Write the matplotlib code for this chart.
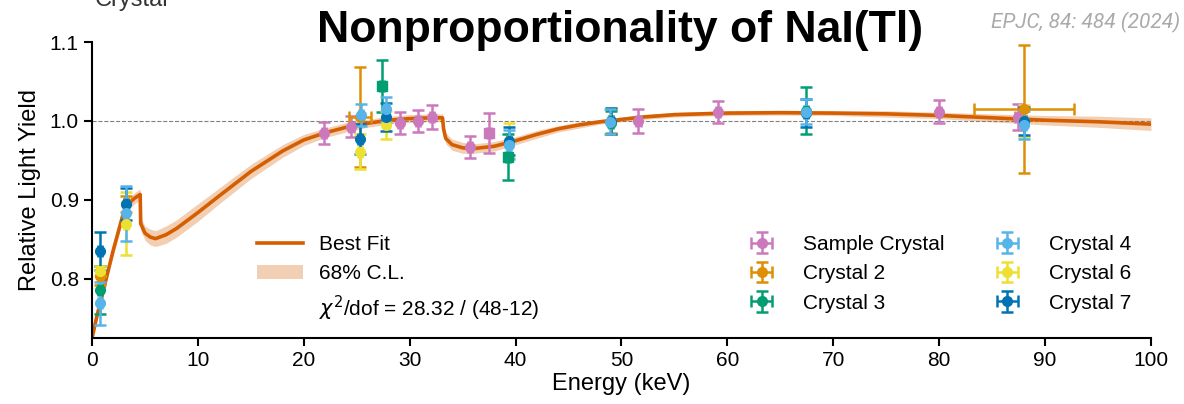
import matplotlib
matplotlib.use("Agg")
import matplotlib.pyplot as plt
import numpy as np
from matplotlib.lines import Line2D
from matplotlib.patches import Patch

plt.rcParams['font.family'] = ['Liberation Sans', 'DejaVu Sans']

# Courbe du meilleur ajustement
fit_e = [0.05, 0.5, 1.0, 2.0, 3.0, 3.5, 4.0, 4.55, 4.6, 5.0, 5.5, 6.0, 7.0, 8.0,
         10, 12, 15, 18, 20, 22, 24, 26, 28, 30, 32, 33.1, 33.2, 33.4, 34, 35,
         36, 38, 40, 42, 44, 46, 48, 50, 52, 55, 60, 65, 70, 75, 80, 85, 90, 95, 100]
fit_y = [0.728, 0.755, 0.782, 0.836, 0.885, 0.896, 0.902, 0.907, 0.870, 0.858,
         0.853, 0.851, 0.856, 0.864, 0.884, 0.905, 0.936, 0.962, 0.976, 0.985,
         0.992, 0.997, 1.001, 1.003, 1.004, 1.004, 0.990, 0.978, 0.970, 0.966,
         0.965, 0.968, 0.975, 0.983, 0.990, 0.995, 0.999, 1.002, 1.005, 1.008,
         1.010, 1.0105, 1.010, 1.009, 1.007, 1.004, 1.001, 0.999, 0.996]
band_hw = [0.006, 0.006, 0.006, 0.006, 0.007, 0.007, 0.007, 0.007, 0.008, 0.009,
           0.010, 0.010, 0.011, 0.011, 0.011, 0.010, 0.009, 0.008, 0.007, 0.006,
           0.006, 0.005, 0.005, 0.005, 0.005, 0.005, 0.007, 0.007, 0.007, 0.007,
           0.006, 0.006, 0.005, 0.005, 0.004, 0.004, 0.003, 0.003, 0.003, 0.003,
           0.003, 0.003, 0.003, 0.004, 0.004, 0.005, 0.006, 0.007, 0.008]

# Points de mesure : énergie, rendement, erreur en y, erreur en x
sample_e = [21.9, 24.5, 29.1, 30.75, 32.1, 35.7, 51.6, 59.1, 80.0, 87.4]
sample_y = [0.985, 0.993, 0.997, 1.000, 1.005, 0.967, 1.000, 1.011, 1.012, 1.005]
sample_err = [0.014, 0.013, 0.014, 0.014, 0.015, 0.014, 0.015, 0.014, 0.015, 0.016]
sample_sq_e = [37.5]
sample_sq_y = [0.985]
sample_sq_err = [0.025]

c2_e = [0.76, 3.18, 25.3, 49.0, 88.0]
c2_y = [0.804, 0.895, 1.005, 1.000, 1.015]
c2_err = [0.012, 0.010, 0.063, 0.015, 0.081]
c2_xerr = [0.2, 0.2, 1.06, 0.2, 4.75]

c3_e = [0.76, 49.0, 67.4]
c3_y = [0.786, 0.998, 1.013]
c3_err = [0.030, 0.015, 0.030]
c3_sq_e = [27.35, 39.3]
c3_sq_y = [1.044, 0.954]
c3_sq_err = [0.033, 0.029]

c4_e = [0.76, 3.18, 25.4, 27.8, 39.4, 48.9, 67.4, 88.0]
c4_y = [0.769, 0.883, 1.008, 1.015, 0.970, 0.999, 1.012, 0.995]
c4_err = [0.027, 0.035, 0.014, 0.016, 0.018, 0.016, 0.016, 0.018]

c6_e = [0.76, 3.18, 25.3, 27.8, 39.4, 49.0, 88.0]
c6_y = [0.810, 0.870, 0.961, 0.995, 0.975, 1.000, 1.000]
c6_err = [0.006, 0.040, 0.022, 0.018, 0.022, 0.016, 0.020]

c7_e = [0.76, 3.18, 25.3, 27.8, 39.4, 49.0, 67.4, 88.0]
c7_y = [0.835, 0.895, 0.977, 1.005, 0.975, 1.000, 1.010, 1.000]
c7_err = [0.024, 0.020, 0.019, 0.018, 0.018, 0.016, 0.018, 0.018]

col_fit = '#D55E00'
col_sample = '#CC78BC'
col_c2 = '#DE8F05'
col_c3 = '#029E73'
col_c4 = '#56B4E9'
col_c6 = '#ECE133'
col_c7 = '#0173B2'

fig = plt.figure(figsize=(11.84, 4.04), dpi=100)
ax = fig.add_axes([0.0777, 0.163, 0.8944, 0.733])

fit_y = np.array(fit_y)
band_hw = np.array(band_hw)
ax.fill_between(fit_e, fit_y - band_hw, fit_y + band_hw, color=col_fit, alpha=0.3,
                linewidth=0, zorder=1)
ax.plot(fit_e, fit_y, color=col_fit, linewidth=2.6, zorder=2)
ax.axhline(1.0, color='gray', linestyle='--', linewidth=0.8, zorder=0)

eb = dict(capsize=4, elinewidth=1.8, capthick=1.8, markersize=7, linestyle='none', zorder=3)

def points(e, y, err, color, label=None, marker='o', xerr=None):
    if xerr is None:
        xerr = [0.2] * len(e)
    return ax.errorbar(e, y, yerr=err, xerr=xerr, color=color, marker=marker,
                       label=label, **eb)

h_s = points(sample_e, sample_y, sample_err, col_sample, 'Sample Crystal')
points(sample_sq_e, sample_sq_y, sample_sq_err, col_sample, marker='s')
h_2 = points(c2_e, c2_y, c2_err, col_c2, 'Crystal 2', xerr=c2_xerr)
h_3 = points(c3_e, c3_y, c3_err, col_c3, 'Crystal 3')
points(c3_sq_e, c3_sq_y, c3_sq_err, col_c3, marker='s')
h_6 = points(c6_e, c6_y, c6_err, col_c6, 'Crystal 6')
h_7 = points(c7_e, c7_y, c7_err, col_c7, 'Crystal 7')
h_4 = points(c4_e, c4_y, c4_err, col_c4, 'Crystal 4')

ax.set_xlim(0, 100)
ax.set_ylim(0.725, 1.1)
ax.set_xticks(np.arange(0, 101, 10))
ax.set_yticks([0.8, 0.9, 1.0, 1.1])
ax.tick_params(labelsize=15, length=6, width=1.5)
for s in ['top', 'right']:
    ax.spines[s].set_visible(False)
for s in ['left', 'bottom']:
    ax.spines[s].set_linewidth(1.5)
ax.set_xlabel('Energy (keV)', fontsize=17, labelpad=2)
ax.set_ylabel('Relative Light Yield', fontsize=17, labelpad=6)

# Légende de l'ajustement
fit_handles = [Line2D([], [], color=col_fit, linewidth=2.6),
               Patch(facecolor=col_fit, alpha=0.3, linewidth=0),
               Line2D([], [], linestyle='none')]
fit_labels = ['Best Fit', '68% C.L.', r'$\chi^2$/dof = 28.32 / (48-12)']
leg1 = ax.legend(fit_handles, fit_labels, loc='upper left', bbox_to_anchor=(0.1478, 0.377),
                 frameon=False, fontsize=15, handlelength=2.2, labelspacing=0.5,
                 borderaxespad=0)
ax.add_artist(leg1)

# Légende des cristaux
leg2 = ax.legend([h_s, h_2, h_3, h_4, h_6, h_7],
                 ['Sample Crystal', 'Crystal 2', 'Crystal 3', 'Crystal 4', 'Crystal 6', 'Crystal 7'],
                 ncol=2, loc='upper left', bbox_to_anchor=(0.6047, 0.377), frameon=False,
                 fontsize=15, labelspacing=0.5, columnspacing=2.0, handletextpad=1.0,
                 borderaxespad=0)

fig.text(0.524, 0.925, 'Nonproportionality of NaI(Tl)', fontsize=32, fontweight='bold',
         ha='center', va='center')
fig.text(0.997, 0.945, 'EPJC, 84: 484 (2024)', fontsize=15, style='italic', color='#AAAAAA',
         ha='right', va='center', family=['Roboto', 'DejaVu Sans'])
fig.text(0.08, 0.985, 'Crystal', fontsize=17, color='#333333', va='baseline')

fig.savefig('out.png', dpi=100)
